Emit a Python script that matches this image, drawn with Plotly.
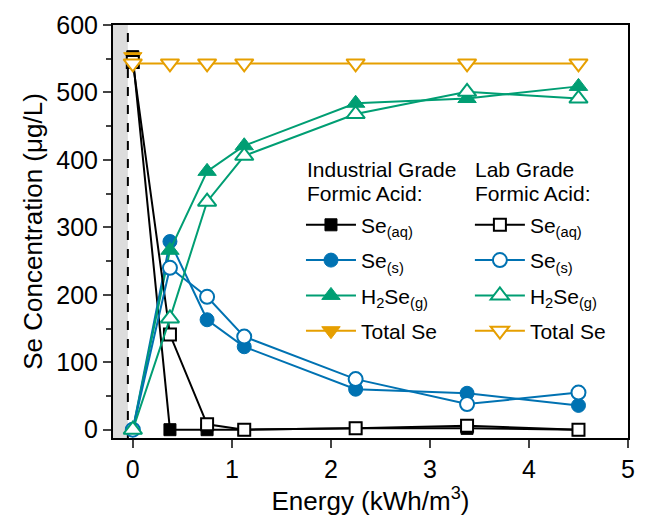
import plotly.graph_objects as go

energy = [0, 0.375, 0.75, 1.125, 2.25, 3.375, 4.5]

ind_se_aq = [553, 0, 0, 0, 2, 2, 0]
ind_se_s = [0, 279, 163, 123, 60, 54, 36]
ind_h2se = [0, 266, 383, 421, 484, 491, 509]
ind_total_x = [0]
ind_total = [553]

lab_se_aq = [545, 141, 8, 0, 2, 6, 0]
lab_se_s = [0, 240, 197, 138, 75, 38, 55]
lab_h2se = [0, 165, 338, 406, 468, 501, 491]
lab_total = [543, 543, 543, 543, 543, 543, 543]

names = ["Se<sub>(aq)</sub>", "Se<sub>(s)</sub>", "H<sub>2</sub>Se<sub>(g)</sub>", "Total Se"]
titles_ind = ["Industrial Grade", "Formic Acid:"]
titles_lab = ["Lab Grade", "Formic Acid:"]
colors = ["#000000", "#0072B2", "#009E73", "#E69F00"]
symbols = ["square", "circle", "triangle-up", "triangle-down"]
sizes = [12, 14, 16, 16]

FONT = "Liberation Sans, Arial, sans-serif"

fig = go.Figure()

ind_sets = [(energy, ind_se_aq), (energy, ind_se_s), (energy, ind_h2se), (ind_total_x, ind_total)]
lab_sets = [(energy, lab_se_aq), (energy, lab_se_s), (energy, lab_h2se), (energy, lab_total)]

for i, (xs, ys) in enumerate(ind_sets):
    fig.add_trace(go.Scatter(
        x=xs, y=ys, mode="lines+markers", name=names[i],
        line=dict(color=colors[i], width=2),
        marker=dict(symbol=symbols[i], size=sizes[i], color=colors[i],
                    line=dict(color=colors[i], width=1)),
        legend="legend", legendgroup="i%d" % i, cliponaxis=False))

for i, (xs, ys) in enumerate(lab_sets):
    fig.add_trace(go.Scatter(
        x=xs, y=ys, mode="lines+markers", name=names[i],
        line=dict(color=colors[i], width=2),
        marker=dict(symbol=symbols[i], size=sizes[i], color="white",
                    line=dict(color=colors[i], width=2)),
        legend="legend2", legendgroup="l%d" % i, cliponaxis=False))

# shaded region and dashed line
fig.add_shape(type="rect", xref="x", yref="paper", x0=-0.2, x1=-0.05, y0=0, y1=1,
              fillcolor="#DCDCDC", line=dict(width=0), layer="below")
fig.add_shape(type="line", xref="x", yref="paper", x0=-0.05, x1=-0.05, y0=0, y1=1,
              line=dict(color="black", width=2, dash="dash"), layer="below")

# legend headings
for xp, lines in [(0.372, titles_ind), (0.699, titles_lab)]:
    for yp, txt in zip([0.649, 0.593], lines):
        fig.add_annotation(x=xp, y=yp, xref="paper", yref="paper", text=txt,
                           showarrow=False, xanchor="left", yanchor="middle",
                           font=dict(family=FONT, size=21, color="black"))

leg_common = dict(
    font=dict(family=FONT, size=21, color="black"),
    bgcolor="rgba(0,0,0,0)", borderwidth=0,
    xanchor="left", yanchor="top", itemwidth=50,
    traceorder="grouped", tracegroupgap=5,
    itemclick=False,
)

fig.update_layout(
    width=646, height=522,
    margin=dict(l=113, r=11, t=25, b=84),
    plot_bgcolor="white", paper_bgcolor="white",
    font=dict(family=FONT, size=25, color="black"),
    showlegend=True,
    legend=dict(x=0.365, y=0.565, **leg_common),
    legend2=dict(x=0.693, y=0.565, **leg_common),
    xaxis=dict(range=[-0.2, 5], tickvals=[0, 1, 2, 3, 4, 5], ticks="outside", ticklen=8,
               tickwidth=2, showline=True, linewidth=2, linecolor="black", mirror=True,
               showgrid=False, zeroline=False, tickfont=dict(size=25),
               title=dict(text="Energy (kWh/m<sup>3</sup>)", font=dict(size=26), standoff=9)),
    yaxis=dict(range=[-12.3, 600], tickvals=[0, 100, 200, 300, 400, 500, 600], ticks="outside",
               ticklen=8, tickwidth=2, showline=True, linewidth=2, linecolor="black", mirror=True,
               showgrid=False, zeroline=False, tickfont=dict(size=25),
               minor=dict(ticks="outside", ticklen=5, tickwidth=2, dtick=50, tick0=0, showgrid=False),
               title=dict(text="Se Concentration (μg/L)", font=dict(size=26), standoff=6)),
)

fig.write_html("out.html")
